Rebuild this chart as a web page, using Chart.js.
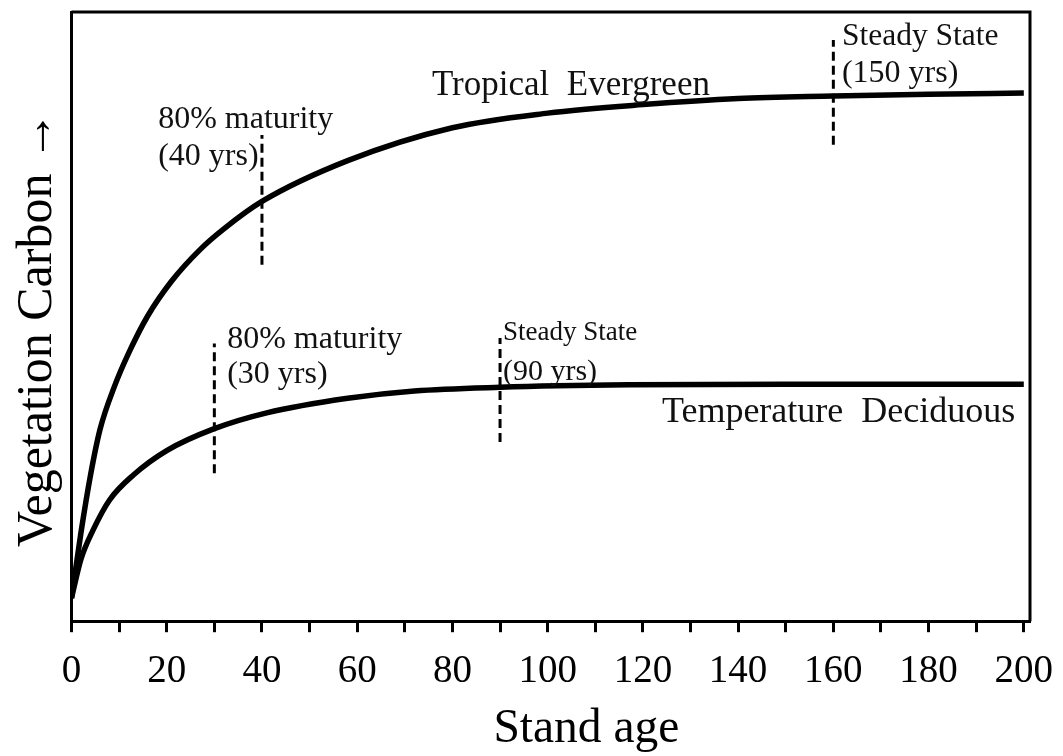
<!DOCTYPE html>
<html>
<head>
<meta charset="utf-8">
<script src="https://cdn.jsdelivr.net/npm/chart.js@4.4.0/dist/chart.umd.min.js"></script>
<style>
  html, body { margin: 0; padding: 0; background: #fff; }
  #wrap { width: 1063px; height: 756px; position: relative; }
</style>
</head>
<body>
<div id="wrap"><canvas id="carbonChart"></canvas></div>
<script>
// stand age (years) and vegetation carbon (relative units)
const tropicalAge = [0, 2, 4, 6, 9, 12, 16, 21, 27, 32, 40, 58, 80, 100, 120, 140, 160, 180, 200];
const tropicalCarbon = [3.8, 14.6, 24, 31.5, 38.5, 44.0, 50.1, 55.8, 61, 64.4, 68.9, 75.6, 81, 83.4, 84.8, 85.8, 86.2, 86.5, 86.7];

const temperateAge = [0, 2, 4.5, 8, 13, 20, 30, 41, 58, 72, 90, 117, 150, 200];
const temperateCarbon = [3.8, 10.2, 14.9, 19.9, 24.0, 28.0, 31.6, 34.2, 36.6, 37.8, 38.4, 38.8, 38.9, 38.9];

// dashed markers: age, lower and upper carbon extent
const markerAge = [40, 30, 90, 160];
const markerLow = [58.5, 24.3, 29.4, 78.2];
const markerHigh = [79.8, 45.6, 46.5, 95.4];

const xTicks = [0, 10, 20, 30, 40, 50, 60, 70, 80, 90, 100, 110, 120, 130, 140, 150, 160, 170, 180, 190, 200];

const serif = "'Liberation Serif', 'Times New Roman', serif";

// text annotations, anchored in data units
const notes = [
    { text: '80% maturity', x: 18.2, y: 80.9, size: 32 },
    { text: '(40 yrs)', x: 18.2, y: 74.9, size: 32 },
    { text: 'Tropical  Evergreen', x: 75.7, y: 86.4, size: 35 },
    { text: 'Steady State', x: 161.8, y: 94.6, size: 31.5 },
    { text: '(150 yrs)', x: 161.8, y: 88.5, size: 32 },
    { text: '80% maturity', x: 32.7, y: 44.8, size: 32 },
    { text: '(30 yrs)', x: 32.7, y: 39.1, size: 32 },
    { text: 'Steady State', x: 90.6, y: 46.1, size: 27 },
    { text: '(90 yrs)', x: 90.6, y: 39.6, size: 30 },
    { text: 'Temperature  Deciduous', x: 124, y: 32.7, size: 36 }
];

function toPoints(xs, ys) {
    return xs.map((x, i) => ({ x: x, y: ys[i] }));
}

const curveStyle = {
    borderColor: '#000',
    borderWidth: 5.5,
    pointRadius: 0,
    fill: false,
    cubicInterpolationMode: 'monotone'
};

const datasets = [
    { data: toPoints(tropicalAge, tropicalCarbon), ...curveStyle },
    { data: toPoints(temperateAge, temperateCarbon), ...curveStyle }
];

markerAge.forEach((age, i) => {
    datasets.push({
        data: [{ x: age, y: markerLow[i] }, { x: age, y: markerHigh[i] }],
        borderColor: '#000',
        borderWidth: 3,
        borderDash: [9, 5],
        pointRadius: 0,
        fill: false
    });
});

const framePlugin = {
    id: 'frame',
    afterDraw(chart) {
        const { ctx, chartArea: a, scales } = chart;
        ctx.save();
        ctx.strokeStyle = '#000';
        ctx.lineWidth = 3;
        ctx.beginPath();
        ctx.moveTo(a.left, a.top);
        ctx.lineTo(a.right, a.top);
        ctx.lineTo(a.right, a.bottom);
        ctx.stroke();

        ctx.fillStyle = '#111';
        ctx.textBaseline = 'alphabetic';
        ctx.textAlign = 'left';
        notes.forEach(n => {
            ctx.font = n.size + 'px ' + serif;
            ctx.fillText(n.text, scales.x.getPixelForValue(n.x), scales.y.getPixelForValue(n.y));
        });
        ctx.restore();
    }
};

new Chart(document.getElementById('carbonChart').getContext('2d'), {
    type: 'line',
    data: { datasets: datasets },
    options: {
        responsive: true,
        maintainAspectRatio: false,
        animation: false,
        layout: { padding: { left: 7.5, right: 33, top: 12, bottom: 0 } },
        plugins: {
            legend: { display: false },
            tooltip: { enabled: false }
        },
        scales: {
            x: {
                type: 'linear',
                min: 0,
                max: 201.3,
                afterBuildTicks: scale => { scale.ticks = xTicks.map(v => ({ value: v })); },
                afterFit: scale => { scale.paddingRight = 0; scale.paddingLeft = 0; },
                border: { color: '#000', width: 3 },
                grid: {
                    drawOnChartArea: false,
                    drawTicks: true,
                    tickLength: 11,
                    tickWidth: 3,
                    tickColor: '#000'
                },
                ticks: {
                    autoSkip: false,
                    maxRotation: 0,
                    color: '#000',
                    padding: 16,
                    font: { family: serif, size: 39 },
                    callback: v => (v % 20 === 0 ? v : '')
                },
                title: {
                    display: true,
                    // leading spaces push the title right of centre, as in the original
                    text: '      Stand age',
                    color: '#000',
                    font: { family: serif, size: 47.5 },
                    padding: { top: -10, bottom: -2 }
                }
            },
            y: {
                min: 0,
                max: 100,
                border: { color: '#000', width: 3 },
                grid: { display: false, drawTicks: false },
                ticks: { display: false },
                title: {
                    display: true,
                    text: 'Vegetation Carbon \u2192  ',
                    color: '#000',
                    font: { family: serif, size: 50 },
                    padding: { top: 0, bottom: 4 }
                }
            }
        }
    },
    plugins: [framePlugin]
});
</script>
</body>
</html>
